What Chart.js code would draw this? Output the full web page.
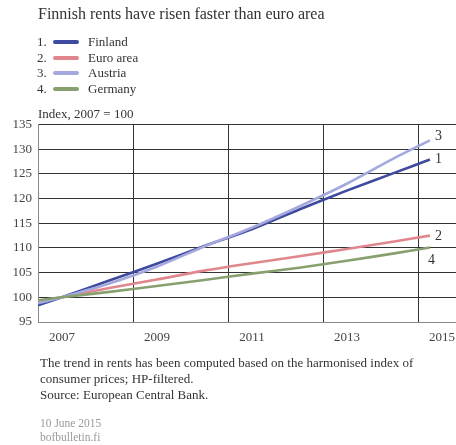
<!DOCTYPE html>
<html>
<head>
<meta charset="utf-8">
<script src="https://cdn.jsdelivr.net/npm/chart.js@4.4.1/dist/chart.umd.min.js"></script>
<style>
  body { margin: 0; width: 456px; height: 445px; overflow: hidden; background: #fff;
         font-family: "Liberation Serif", "DejaVu Serif", serif; color: #333; }
  #box { position: absolute; left: 0; top: 0; width: 456px; height: 445px; }
  .txt { position: absolute; white-space: nowrap; }
  .title { left: 38px; top: 5px; font-size: 16px; line-height: 18px; }
  .row { left: 37px; font-size: 13px; line-height: 16px; }
  .row .sw { position: absolute; left: 16px; top: 6px; width: 26px; height: 4px; border-radius: 2px; }
  .row .lab { position: absolute; left: 51px; top: 0; }
  .unit { left: 38px; top: 106px; font-size: 13px; line-height: 16px; }
  .note { left: 40px; top: 355px; font-size: 13px; line-height: 16px; }
  .stamp { left: 40px; top: 416px; font-size: 11.5px; line-height: 14px; color: #999; }
</style>
</head>
<body>
<div id="box"><canvas id="chartRents"></canvas></div>
<div class="txt title">Finnish rents have risen faster than euro area</div>
<div id="legend"></div>
<div class="txt unit">Index, 2007 = 100</div>
<div class="txt note">The trend in rents has been computed based on the harmonised index of<br>consumer prices; HP-filtered.<br>Source: European Central Bank.</div>
<div class="txt stamp">10 June 2015<br>bofbulletin.fi</div>
<script>
'use strict';

// data
const years = [2007, 2007.5, 2008.5, 2009.5, 2010.5, 2011.5, 2012.5, 2013.5, 2014.5, 2015.25];
const finland = [98.4, 100, 103.4, 106.8, 110.4, 113.8, 117.8, 121.6, 125.2, 127.9];
const euroArea = [99.3, 100, 101.9, 103.6, 105.4, 106.9, 108.3, 109.8, 111.3, 112.5];
const austria = [98.8, 100, 102.8, 106.2, 110.3, 114.1, 118.4, 123.0, 128.2, 131.8];
const germany = [99.4, 100, 101.1, 102.3, 103.5, 104.8, 106.0, 107.4, 108.9, 110.1];

const seriesNames = ['Finland', 'Euro area', 'Austria', 'Germany'];
const seriesValues = [finland, euroArea, austria, germany];
const seriesColors = ['#3d4a9e', '#e0868d', '#a5a8dc', '#88a06f'];
const xTicks = [2007, 2009, 2011, 2013, 2015];
const yTicks = [95, 100, 105, 110, 115, 120, 125, 130, 135];

// where the number sits next to each line end
const endOffsets = [[5, 0], [5, 1], [5, -4], [-2, 13]];

const legend = document.getElementById('legend');
seriesNames.forEach((name, i) => {
  const row = document.createElement('div');
  row.className = 'txt row';
  row.style.top = (34 + i * 15.5) + 'px';
  row.innerHTML = (i + 1) + '.<span class="sw" style="background:' + seriesColors[i] +
    '"></span><span class="lab">' + name + '</span>';
  legend.appendChild(row);
});

const endLabels = {
  id: 'endLabels',
  afterDatasetsDraw(chart) {
    const ctx = chart.ctx;
    ctx.save();
    ctx.font = '14px "Liberation Serif"';
    ctx.fillStyle = '#333';
    ctx.textBaseline = 'middle';
    chart.data.datasets.forEach((ds, i) => {
      const meta = chart.getDatasetMeta(i);
      const pt = meta.data[meta.data.length - 1];
      ctx.fillText(String(i + 1), pt.x + endOffsets[i][0], pt.y + endOffsets[i][1]);
    });
    ctx.restore();
  }
};

const tickFont = { family: '"Liberation Serif"', size: 13 };

new Chart(document.getElementById('chartRents'), {
  type: 'line',
  data: {
    datasets: seriesValues.map((vals, i) => ({
      label: seriesNames[i],
      data: vals.map((v, k) => ({ x: years[k], y: v })),
      borderColor: seriesColors[i],
      borderWidth: 2.6,
      pointRadius: 0,
      tension: 0.3,
      fill: false,
      order: 3 - i
    }))
  },
  options: {
    responsive: true,
    maintainAspectRatio: false,
    animation: false,
    layout: { padding: { left: 0, right: 0, top: 124.5, bottom: 98 } },
    plugins: { legend: { display: false }, tooltip: { enabled: false } },
    scales: {
      x: {
        type: 'linear',
        min: 2007,
        max: 2015.8,
        afterBuildTicks: s => { s.ticks = xTicks.map(v => ({ value: v })); },
        afterFit: s => { s.height = 25; },
        grid: { color: '#333', lineWidth: 1, drawTicks: false },
        border: { color: '#888' },
        ticks: { font: tickFont, color: '#444', padding: 8, labelOffset: 24, maxRotation: 0,
                  callback: v => String(v) }
      },
      y: {
        min: 95,
        max: 135,
        afterBuildTicks: s => { s.ticks = yTicks.map(v => ({ value: v })); },
        afterFit: s => { s.width = 38; },
        grid: { color: '#333', lineWidth: 1, drawTicks: false },
        border: { color: '#888' },
        ticks: { font: tickFont, color: '#444', padding: 6 }
      }
    }
  },
  plugins: [endLabels]
});
</script>
</body>
</html>
